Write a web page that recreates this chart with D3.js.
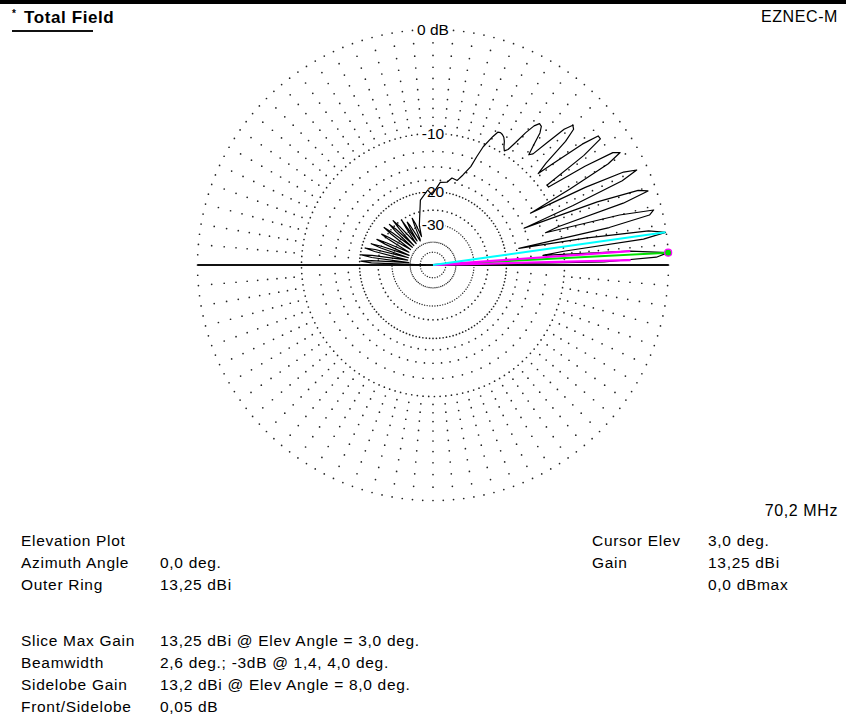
<!DOCTYPE html>
<html><head><meta charset="utf-8">
<script src="https://cdn.jsdelivr.net/npm/d3@7"></script>
<style>
html,body{margin:0;padding:0;background:#fff;}
svg{display:block;}
text{font-family:Arial,"Liberation Sans",sans-serif;fill:#000;}
</style></head>
<body>
<svg id="c" width="846" height="715"></svg>
<script>
// ---- data (elevation angle in degrees, gain in dB relative to the outer ring) ----
const traceAngles = [0,1,2,3,4,5,6,7,8,9,10,11,12,13,14,15,16,17,18,19,20,21,22,23,24,25,26,27,28,29,30,
  31,32,33,34,35,36,37,38,39,40,41,42,43,44,45,46,47,48,49,50,51,52,53,54,55,56,57,58,59,60,61,62,63,64,65,
  67,68,69,71.6,74,77.7,80.4,85,90.8,94,101,109,
  112,113,114,115,116.5,118,120,121,122,123.5,125,126,128,131,132,133,134.5,136,137,138,139.5,141.5,142.5,143.5,145.5,
  148,149,150,152,154.5,155.5,156.5,158,160,161,162,163.5,165,166,167,169,171,172,173,174.5,176,177,178,179,180];
const traceDb = [-60,-5.5,-0.9,0,-3,-13,-10,-1.8,-0.05,-1.3,-7,-17,-4.6,-1,-0.6,-3.4,-12,-10,-2.8,-0.6,-1.3,-5,-15,-7.5,-2.2,-0.8,-1.8,-5.5,-13,-7,-2.6,
  -1.3,-1.8,-4.5,-9,-9,-4,-2,-2,-3.5,-6.5,-9,-7.5,-4.5,-3.2,-3,-3.8,-5.8,-7.8,-8.2,-7,-5.6,-5,-4.9,-5.4,-6.5,-8,-9.2,-9.6,-9.2,-8.6,-8.2,-8,-7.9,-8,-8.7,
  -10.4,-12,-13.8,-15.6,-16.9,-16.7,-17.7,-17.9,-20.8,-19.6,-21.8,-29.6,
  -35,-28.5,-26.2,-29,-36,-37,-28.5,-26.6,-29,-36,-25,-28,-37,-26,-23.6,-27,-37,-26,-23.6,-26.5,-37,-26,-23,-26,-37,
  -26,-23.5,-26,-37,-26,-23,-26,-38,-25,-22,-25,-38,-23.5,-20.8,-23.5,-38,-23,-20.3,-23,-39,-23,-20.3,-23,-45,-60];

const ringDb = [0,-10,-20,-30,-40,-50];                 // dotted rings
const ringDotGap = [10.3,5.7,3.4,2.6,2.0,2.6];          // dot spacing along each ring (px)
const ringLabels = ["0 dB","-10","-20","-30"];
const latticeDb = [-1,-2,-3,-4,-5,-6,-7,-8,-9,-12.5,-15,-17.5,-25];   // grid dots on 5° spokes
const cursorElev = 3.0, sidelobeElev = 8.0, sidelobeDb = -0.05;
const bwAngles = [1.4, 4.0], bwDb = -3;

const leftLabels = ["Elevation Plot","Azimuth Angle","Outer Ring","","Slice Max Gain","Beamwidth","Sidelobe Gain","Front/Sidelobe"];
const leftValues = ["","0,0 deg.","13,25 dBi","","13,25 dBi @ Elev Angle = 3,0 deg.","2,6 deg.; -3dB @ 1,4, 4,0 deg.","13,2 dBi @ Elev Angle = 8,0 deg.","0,05 dB"];
const rightLabels = ["Cursor Elev","Gain",""];
const rightValues = ["3,0 deg.","13,25 dBi","0,0 dBmax"];

// ---- layout ----
const svg = d3.select("#c");
const cx = 433, cy = 265, R = 235.5;
// ARRL log scale: r = R * 0.89^(-dB/2)  <=> r ∝ (power ratio)^0.25306
const rScale = d3.scalePow().exponent(-5*Math.log10(0.89)).domain([0,1]).range([0,R]);
const rDb = db => rScale(Math.pow(10, db/10));
const rad = d => d*Math.PI/180;

svg.append("rect").attr("x",0).attr("y",0).attr("width",846).attr("height",4).attr("fill","#000");

const g = svg.append("g").attr("transform",`translate(${cx},${cy})`);

// lattice dots
const spokes = d3.range(0,360,5);
const latt = [];
latticeDb.forEach(db => spokes.forEach(a => latt.push([a, db])));
g.append("g").selectAll("circle").data(latt).join("circle")
  .attr("cx", d => rDb(d[1])*Math.cos(rad(d[0])))
  .attr("cy", d => -rDb(d[1])*Math.sin(rad(d[0])))
  .attr("r",0.85).attr("fill","#222");

// dotted rings
ringDb.forEach((db,i) => {
  const r = rDb(db);
  const n = Math.round(2*Math.PI*r / ringDotGap[i]);
  const pts = d3.range(n).map(k => 2*Math.PI*k/n);
  g.append("g").selectAll("circle").data(pts).join("circle")
    .attr("cx", a => r*Math.cos(a)).attr("cy", a => r*Math.sin(a))
    .attr("r", i<3 ? 0.85 : 0.7).attr("fill","#222");
});

// horizontal axis
g.append("line").attr("x1",-R).attr("x2",R).attr("y1",0).attr("y2",0)
  .attr("stroke","#111").attr("stroke-width",2);

// ring labels with white background
ringLabels.forEach((t,i) => {
  const r = rDb(ringDb[i]);
  const txt = g.append("text").attr("x",0).attr("y",-r+5.5).attr("text-anchor","middle")
    .style("font-size","15.5px").text(t);
  const bb = txt.node().getBBox();
  g.insert("rect", "text").attr("x",bb.x-1).attr("y",-r-6).attr("width",bb.width+2).attr("height",12).attr("fill","#fff");
});

const radial = d3.lineRadial().angle(d => Math.PI/2 - rad(d[0])).radius(d => rDb(d[1]));

// pattern trace
const traceData = traceAngles.map((a,i) => [a, traceDb[i]]);
g.append("path").attr("d", radial(traceData)).attr("fill","none").attr("stroke","#000").attr("stroke-width",1.2).attr("stroke-linejoin","round");

// marker lines
g.append("path").attr("d", radial([[cursorElev,-200],[cursorElev,0]])).attr("stroke","#00e000").attr("stroke-width",2).attr("fill","none");
bwAngles.forEach(a => g.append("path").attr("d", radial([[a,-200],[a,bwDb]])).attr("stroke","#ff00ff").attr("stroke-width",2.2).attr("fill","none"));
g.append("path").attr("d", radial([[sidelobeElev,-200],[sidelobeElev,sidelobeDb]])).attr("stroke","#00ffff").attr("stroke-width",2).attr("fill","none");
g.append("circle").attr("cx", R*Math.cos(rad(cursorElev))).attr("cy", -R*Math.sin(rad(cursorElev)))
  .attr("r",3.5).attr("fill","#00e000").attr("stroke","#ff00ff").attr("stroke-width",1.2);

// titles
svg.append("text").attr("x",12).attr("y",17).style("font-size","10px").style("font-weight","bold").text("*");
svg.append("text").attr("x",24).attr("y",23).style("font-size","17px").style("font-weight","bold").style("letter-spacing","0.6px").text("Total Field");
svg.append("rect").attr("x",12).attr("y",30).attr("width",81).attr("height",2).attr("fill","#111");
svg.append("text").attr("x",838).attr("y",22).attr("text-anchor","end").style("font-size","16px").style("letter-spacing","0.6px").text("EZNEC-M");
svg.append("text").attr("x",838).attr("y",516).attr("text-anchor","end").style("font-size","16px").style("letter-spacing","0.6px").text("70,2 MHz");

// info block
const fs = "15.5px", ls = "0.7px";
const baseY = [546,568,590,612,646,668,690,712];
leftLabels.forEach((t,i) => { if(t) svg.append("text").attr("x",21).attr("y",baseY[i]).style("font-size",fs).style("letter-spacing",ls).text(t); });
leftValues.forEach((t,i) => { if(t) svg.append("text").attr("x",160).attr("y",baseY[i]).style("font-size",fs).style("letter-spacing",ls).text(t); });
rightLabels.forEach((t,i) => { if(t) svg.append("text").attr("x",592).attr("y",baseY[i]).style("font-size",fs).style("letter-spacing",ls).text(t); });
rightValues.forEach((t,i) => { if(t) svg.append("text").attr("x",708).attr("y",baseY[i]).style("font-size",fs).style("letter-spacing",ls).text(t); });
</script>
</body></html>
